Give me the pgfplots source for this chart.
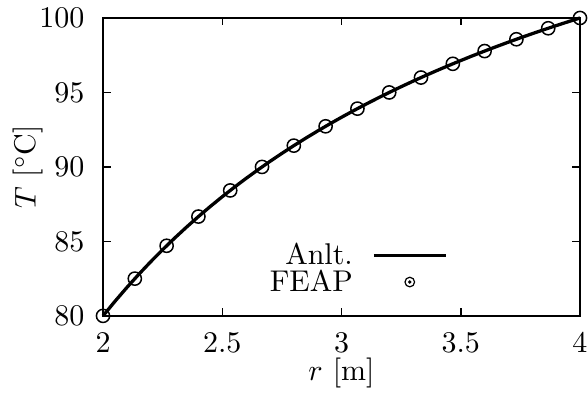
\documentclass[border=0pt]{standalone}
\usepackage{pgfplots}
\pgfplotsset{compat=1.18}
\begin{document}
\begin{tikzpicture}
\begin{axis}[
  scale only axis,
  width=159pt, height=99.3pt,
  xmin=2, xmax=4, ymin=80, ymax=100,
  xtick={2,2.5,3,3.5,4}, ytick={80,85,90,95,100},
  tick align=inside, major tick length=2.5pt,
  xtick pos=both, ytick pos=both,
  axis line style={line width=0.5pt},
  every tick/.style={line width=0.5pt, black},
  yticklabel style={inner sep=0pt, xshift=-6pt},
  xticklabel style={inner sep=0pt, yshift=-5.6pt},
  xlabel={$r$ [m]}, ylabel={$T$ [$^{\circ}$C]},
  xlabel style={at={(axis description cs:0.5,-0.191)},anchor=center},
  ylabel style={at={(axis description cs:-0.157,0.5)},anchor=center},
  clip=false,
  legend style={at={(rel axis cs:0.723,0.25)}, anchor=north east, draw=none, fill=none, inner sep=0pt,
    legend plot pos=right, legend cell align=right, row sep=0pt,
    nodes={inner sep=1pt, text height=6.6pt, text depth=0.3pt}},
]
\addplot[black, line width=1.1pt, legend image code/.code={\path[draw=none,fill=none] (0pt,0pt) -- (30pt,0pt); \draw[black,line width=1pt] (6pt,0pt) -- (30pt,0pt);}] coordinates {
(2.00,80) (2.05,80.9756) (2.10,81.9048) (2.15,82.7907) (2.20,83.6364)
(2.25,84.4444) (2.30,85.2174) (2.35,85.9574) (2.40,86.6667) (2.45,87.3469)
(2.50,88) (2.55,88.6275) (2.60,89.2308) (2.65,89.8113) (2.70,90.3704)
(2.75,90.9091) (2.80,91.4286) (2.85,91.9298) (2.90,92.4138) (2.95,92.8814)
(3.00,93.3333) (3.05,93.7705) (3.10,94.1935) (3.15,94.6032) (3.20,95)
(3.25,95.3846) (3.30,95.7576) (3.35,96.1194) (3.40,96.4706) (3.45,96.8116)
(3.50,97.1429) (3.55,97.4648) (3.60,97.7778) (3.65,98.0822) (3.70,98.3784)
(3.75,98.6667) (3.80,98.9474) (3.85,99.2208) (3.90,99.4872) (3.95,99.7468)
(4.00,100)
};
\addlegendentry{Anlt.}
\addplot[only marks, mark=o, mark size=2.2pt, mark options={black, line width=0.5pt},
  legend image code/.code={\path[draw=none,fill=none] (0pt,0pt) -- (30pt,0pt); \draw[black,line width=0.4pt] (18pt,0pt) circle (1.6pt); \fill[black] (18pt,0pt) circle (0.35pt);}] coordinates {
(2,80) (2.1333,82.5) (2.2667,84.706) (2.4,86.667) (2.5333,88.421)
(2.6667,90) (2.8,91.429) (2.9333,92.727) (3.0667,93.913) (3.2,95)
(3.3333,96) (3.4667,96.923) (3.6,97.778) (3.7333,98.571) (3.8667,99.310) (4,100)
};
\addlegendentry{FEAP}
\path[draw=none] (rel axis cs:-0.216,-0.255) rectangle (rel axis cs:1.0168,1.0604);
\end{axis}
\end{tikzpicture}
\end{document}
